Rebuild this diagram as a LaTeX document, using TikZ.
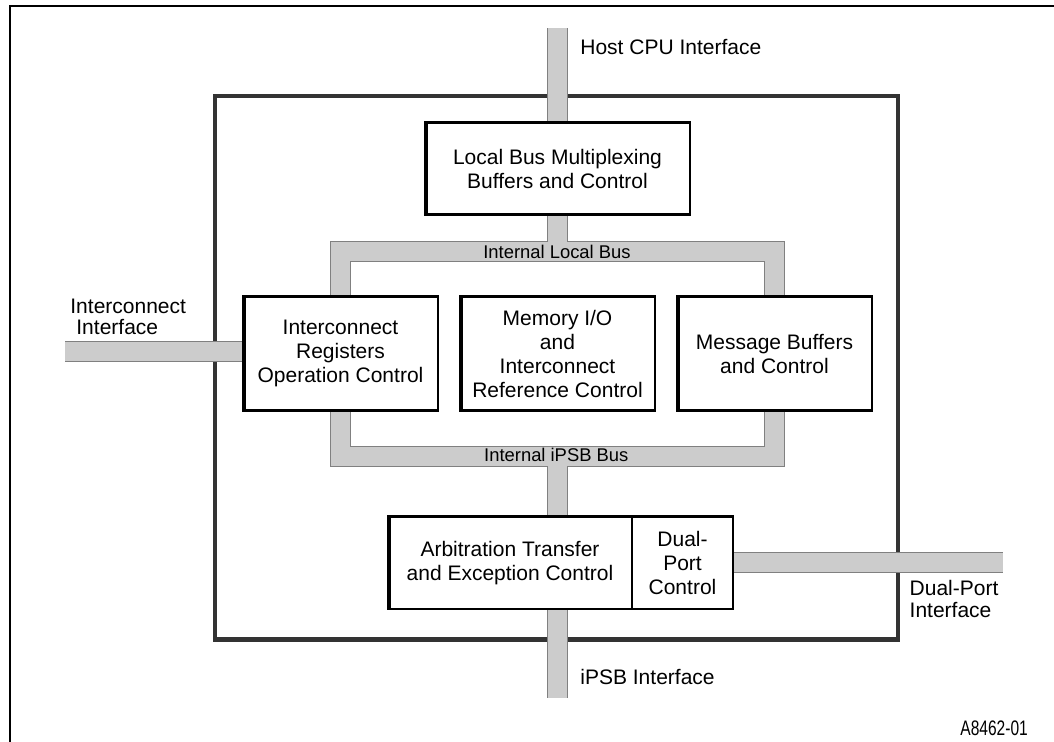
\documentclass[tikz,border=0pt]{standalone}
\usepackage{fontspec}
\setmainfont{Liberation Sans}
\usetikzlibrary{positioning, backgrounds}
\definecolor{chipColor}{RGB}{51, 51, 51}
\definecolor{busFill}{RGB}{204, 204, 204}
\definecolor{busEdge}{RGB}{128, 128, 128}

\begin{document}
\begin{tikzpicture}[
  x=0.5pt, y=-0.5pt,
  every node/.style={font=\fontsize{10.5}{12}\selectfont},
  unit/.style={draw, fill=white, line width=1.3pt, outer sep=0pt, inner sep=0pt, align=center},
  lbl/.style={align=left, anchor=base west, inner sep=0pt, font=\fontsize{10.5}{10.8}\selectfont},
  buslabel/.style={anchor=base, inner sep=0pt, font=\fontsize{9.2}{11}\selectfont},
  bus/.style 2 args={draw=#1, line width=#2}
]
\useasboundingbox (0,0) rectangle (1054,742);

% blocks
\node[unit, minimum width=132.5pt, minimum height=46pt] (lbm) at (557.5,168.7) {Local Bus Multiplexing\\Buffers and Control};
\node[unit, minimum width=97.5pt, minimum height=57pt] (iro) at (340.5,353.7) {Interconnect\\Registers\\Operation Control};
\node[unit, minimum width=97.5pt, minimum height=57pt, right=11pt of iro] (mio) {Memory I/O\\and\\Interconnect\\Reference Control};
\node[unit, minimum width=97.5pt, minimum height=57pt, right=11pt of mio] (msg) {Message Buffers\\and Control};
\node[unit, minimum width=122pt, minimum height=46pt] (atec) at (510,562.8) {Arbitration Transfer\\and Exception Control};
\node[unit, minimum width=50.5pt, minimum height=46pt, right=0pt of atec] (dpc) {Dual-\\Port\\Control};

\foreach \n in {lbm,iro,mio,msg,atec}
  \draw[line width=2.2pt] ([xshift=0.45pt,yshift=0.65pt]\n.north west) -- ([xshift=0.45pt,yshift=-0.65pt]\n.south west);

% bus names
\node[buslabel] (ilb) at (557,258.3) {Internal Local Bus};
\node[buslabel] (ipb) at (556.3,461.7) {Internal iPSB Bus};

% interfaces
\node[lbl] (host) at (580,54.3) {Host CPU Interface};
\node[lbl, anchor=north west] (icn) at (70,298.3) {Interconnect\\\hspace*{3pt}Interface};
\node[lbl, anchor=north west] (dpi) at (909.3,580) {Dual-Port\\Interface};
\node[lbl] (ipsb) at (580,684) {iPSB Interface};
\node[lbl] (code) at (960,735) {\scalebox{0.74}[1]{A8462-01}};

\coordinate (hostend) at (557.5,28.3);
\coordinate (lbus) at (557.5,251.5);
\coordinate (ibus) at (557.5,456.5);
\coordinate (ipsbend) at (557.5,698.3);
\coordinate (icend) at (65,352);
\coordinate (dpend) at (1003.3,562);

\begin{scope}[on background layer]
  \draw[line width=1.1pt] (10.3,742) |- (1054,6.3);
  \draw[chipColor, line width=2.25pt] (215,95.8) rectangle (898.2,639.5);
  % buses: outline pass, then fill pass
  \foreach \c/\w in {busEdge/10.5pt, busFill/9.5pt} {
    \draw[bus={\c}{\w}] (hostend) -- (lbm.north);
    \draw[bus={\c}{\w}] (iro.north) |- (lbus) -| (msg.north);
    \draw[bus={\c}{\w}] (lbm.south) -- (lbus);
    \draw[bus={\c}{\w}] (iro.south) |- (ibus) -| (msg.south);
    \draw[bus={\c}{\w}] (ibus) -- (ibus |- atec.north);
    \draw[bus={\c}{\w}] (ibus |- atec.south) -- (ipsbend);
    \draw[bus={\c}{\w}] (icend) -- (icend -| iro.west);
    \draw[bus={\c}{\w}] (dpc.east) -- (dpc.east -| dpend);
  }
\end{scope}
\end{tikzpicture}
\end{document}
